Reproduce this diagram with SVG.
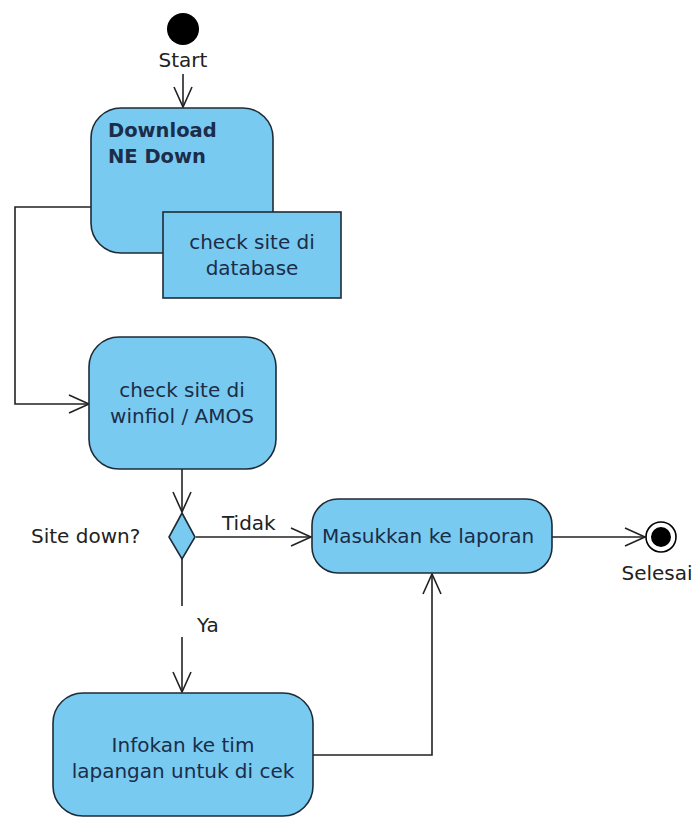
<svg xmlns="http://www.w3.org/2000/svg" width="692" height="819" viewBox="0 0 692 819">
<style>
.act{fill:#79caf0;stroke:#1e2b36;stroke-width:1.6}
.t{font-family:"DejaVu Sans",sans-serif;font-size:20px;fill:#1b2d48;text-anchor:middle}
.tb{font-family:"DejaVu Sans",sans-serif;font-size:19.5px;fill:#1b2d48;font-weight:bold;text-anchor:start}
.lbl{font-family:"DejaVu Sans",sans-serif;font-size:20px;fill:#222}
.mid{text-anchor:middle}
.ln{fill:none;stroke:#222;stroke-width:1.6}
</style>
<defs>
<marker id="ah" markerWidth="24" markerHeight="22" refX="21" refY="11" orient="auto" markerUnits="userSpaceOnUse">
<path d="M1,2 L21,11 L1,20" fill="none" stroke="#222" stroke-width="1.6"/>
</marker>
</defs>
<rect width="692" height="819" fill="#fff"/>
<g id="connectors">
<line class="ln" x1="183" y1="74" x2="183" y2="107" marker-end="url(#ah)"/>
<polyline class="ln" points="91,207 15,207 15,404 89,404" marker-end="url(#ah)"/>
<line class="ln" x1="182" y1="469" x2="182" y2="512" marker-end="url(#ah)"/>
<line class="ln" x1="196" y1="537" x2="311" y2="537" marker-end="url(#ah)"/>
<line class="ln" x1="182" y1="559" x2="182" y2="606"/>
<line class="ln" x1="182" y1="637" x2="182" y2="692" marker-end="url(#ah)"/>
<polyline class="ln" points="313,755 432,755 432,574" marker-end="url(#ah)"/>
<line class="ln" x1="552" y1="537" x2="645" y2="537" marker-end="url(#ah)"/>
<text class="lbl" x="222" y="530">Tidak</text>
<text class="lbl" x="197" y="632">Ya</text>
</g>
<g id="start">
<circle cx="183" cy="29" r="16" fill="#000"/>
<text class="lbl mid" x="183" y="67">Start</text>
</g>
<g id="download">
<rect class="act" x="91" y="108" width="182" height="145" rx="30"/>
<text class="tb" x="108" y="137">Download</text>
<text class="tb" x="108" y="163">NE Down</text>
</g>
<g id="checkdb">
<rect class="act" x="163" y="212" width="178" height="86"/>
<text class="t" x="252" y="249">check site di</text>
<text class="t" x="252" y="275">database</text>
</g>
<g id="checkwinfiol">
<rect class="act" x="89" y="337" width="187" height="132" rx="30"/>
<text class="t" x="182" y="397">check site di</text>
<text class="t" x="182" y="423">winfiol / AMOS</text>
</g>
<g id="decision">
<polygon class="act" points="182,513 195,537 182,559 169,537"/>
<text class="lbl" x="31" y="543">Site down?</text>
</g>
<g id="masukkan">
<rect class="act" x="312" y="499" width="240" height="74" rx="26"/>
<text class="t" x="428" y="543">Masukkan ke laporan</text>
</g>
<g id="infokan">
<rect class="act" x="53" y="693" width="260" height="123" rx="30"/>
<text class="t" x="183" y="752">Infokan ke tim</text>
<text class="t" x="183" y="778">lapangan untuk di cek</text>
</g>
<g id="end">
<circle cx="661" cy="537" r="15" fill="#fff" stroke="#000" stroke-width="1.6"/>
<circle cx="661" cy="537" r="10" fill="#000"/>
<text class="lbl mid" x="657" y="580">Selesai</text>
</g>
</svg>
